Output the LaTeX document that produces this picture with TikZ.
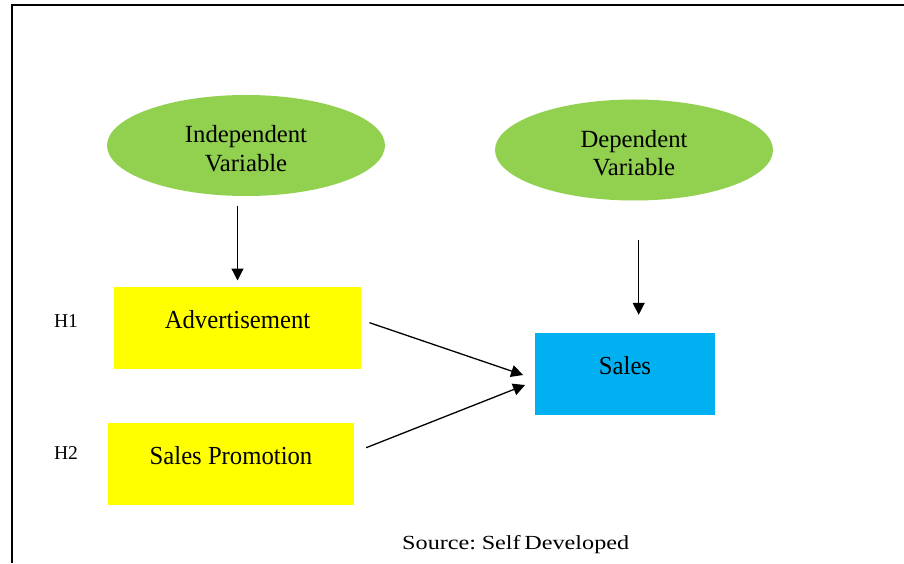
\documentclass[tikz,border=0pt]{standalone}
\usepackage{fontspec}
\setmainfont{Liberation Serif}
\newfontfamily\boxfont[FakeStretch=0.95]{Liberation Serif}
\newfontfamily\srcfont[FakeStretch=1.21, WordSpace=0.6]{Liberation Serif}
\usetikzlibrary{shapes.geometric,arrows.meta}

\definecolor{varGreen}{HTML}{92D050}
\definecolor{varYellow}{HTML}{FFFF00}
\definecolor{varBlue}{HTML}{00B0F0}

\tikzset{
  varell/.style={ellipse, fill=varGreen, draw=none, inner sep=0pt,
    minimum width=278pt, minimum height=101pt, align=center,
    font=\fontsize{24.7}{28.5}\selectfont},
  factor/.style={rectangle, draw=none, inner sep=0pt,
    minimum height=82pt, text height=20pt, text depth=20pt,
    font=\boxfont\fontsize{26}{30}\selectfont},
  hyp/.style={anchor=base, inner sep=0pt, font=\fontsize{19.6}{22}\selectfont},
  arr/.style={-{Triangle[length=12pt,width=12pt]}, line width=1.3pt},
}

\begin{document}
\begin{tikzpicture}[x=1pt,y=1pt]
  \useasboundingbox (0,0) rectangle (904,563);
  \fill[white] (0,0) rectangle (904,563);

  % frame lines (top and left)
  \draw[line width=1.7pt] (12,0) -- (12,558) -- (904,558);

  % variable type ellipses
  \node[varell] (ind) at (246,417.5) {\rule{0pt}{23pt}Independent\\Variable};
  \node[varell] (dep) at (634,413) {\rule{0pt}{23pt}Dependent\\Variable};

  % factor boxes
  \node[factor, fill=varYellow, minimum width=247pt] (adv) at (237.5,235) {Advertisement};
  \node[factor, fill=varYellow, minimum width=246pt] (sp) at (231,99) {Sales Promotion};
  \node[factor, fill=varBlue, minimum width=180pt] (sales) at (625,189) {Sales};

  % hypothesis labels
  \node[hyp] (h1) at (66,235.3) {H1};
  \node[hyp] (h2) at (66,104) {H2};

  % source line
  \node[anchor=base, inner sep=0pt, font=\srcfont\fontsize{20}{24}\selectfont] (src) at (515.7,13.7) {Source: Self Developed};

  % connectors
  \draw[arr, shorten <=9.7pt, shorten >=6.3pt] (ind.south -| adv.north) -- (adv.north);

  \coordinate (salestop) at ([xshift=13.7pt]sales.north);
  \draw[arr, shorten <=39pt, shorten >=18pt] (salestop |- dep.south) -- (salestop);

  \coordinate (advout) at ([shift={(8.3pt,5.3pt)}]adv.east);
  \coordinate (salesin1) at ([shift={(-11.7pt,-1pt)}]sales.west);
  \draw[arr] (advout) -- (salesin1);

  \coordinate (spout) at ([shift={(12pt,16.3pt)}]sp.east);
  \coordinate (salesin2) at ([shift={(-9.7pt,-11pt)}]sales.west);
  \draw[arr] (spout) -- (salesin2);
\end{tikzpicture}
\end{document}
